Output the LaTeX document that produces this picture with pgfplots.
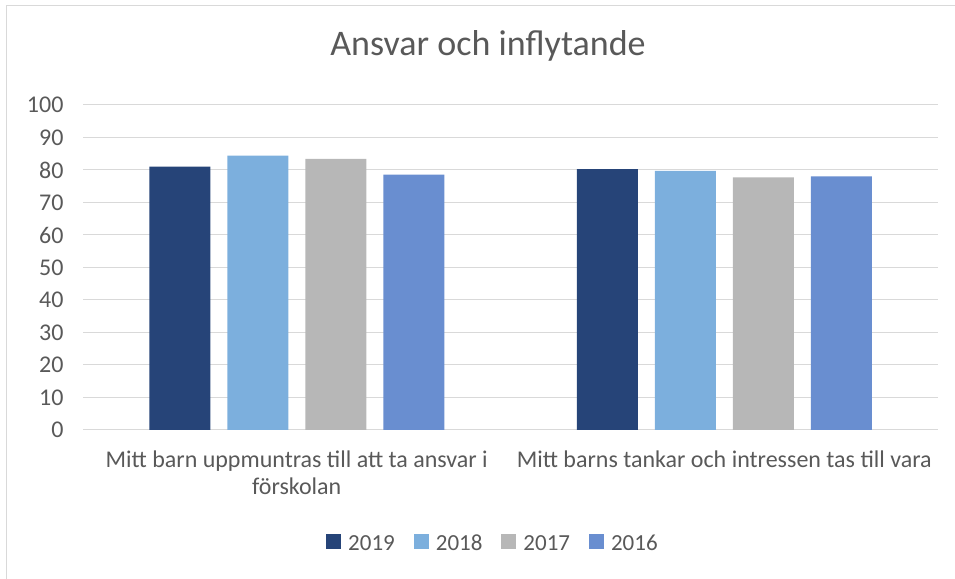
\documentclass[border=0pt]{standalone}
\usepackage{fontspec}
\setmainfont{Carlito}
\usepackage{pgfplots}
\pgfplotsset{compat=1.18}

\definecolor{c2019}{HTML}{264478}
\definecolor{c2018}{HTML}{7CAFDD}
\definecolor{c2017}{HTML}{B7B7B7}
\definecolor{c2016}{HTML}{698ED0}
\definecolor{gridc}{HTML}{D9D9D9}
\definecolor{txt}{HTML}{595959}

\begin{document}
\begin{tikzpicture}
\path[use as bounding box] (0,0) rectangle (955bp,579bp);
% chart frame (cropped at right and bottom)
\draw[gridc, line width=1.5bp] (6.5bp,0) -- (6.5bp,573.5bp) -- (955bp,573.5bp);
\node[anchor=base, text=txt, font=\fontsize{36bp}{42bp}\selectfont] at (488bp,523bp) {Ansvar och inflytande};
\begin{axis}[
  at={(83bp,149bp)}, anchor=south west,
  scale only axis,
  width=855bp, height=325bp,
  xmin=-0.5, xmax=1.5,
  ymin=0, ymax=100,
  ytick={0,10,...,100},
  xtick={0,1},
  xticklabels={{Mitt barn uppmuntras till att ta ansvar i\\förskolan},
               {Mitt barns tankar och intressen tas till vara}},
  xticklabel style={align=center, text=txt, font=\fontsize{24bp}{27bp}\selectfont, yshift=-17bp},
  yticklabel style={text=txt, font=\fontsize{24bp}{28bp}\selectfont, xshift=-16bp},
  /pgf/number format/assume math mode=true,
  major tick length=0pt,
  axis line style={draw=none},
  ymajorgrids,
  major grid style={gridc, line width=1bp},
  ybar, bar width=61bp,
  legend columns=4,
  legend style={at={(0.4795,-0.349)}, anchor=center, draw=none,
    font=\fontsize{23bp}{26bp}\selectfont, text=txt,
    /tikz/every odd column/.append style={column sep=5bp},
    /tikz/every even column/.append style={column sep=17bp}},
  legend image code/.code={\fill[#1] (0bp,-6bp) rectangle (15bp,9bp);},
]
\addplot[fill=c2019, draw=none, bar shift=-117bp] coordinates {(0,81.0) (1,80.3)};
\addlegendentry{2019}
\addplot[fill=c2018, draw=none, bar shift=-39bp] coordinates {(0,84.4) (1,79.7)};
\addlegendentry{2018}
\addplot[fill=c2017, draw=none, bar shift=39bp] coordinates {(0,83.4) (1,77.7)};
\addlegendentry{2017}
\addplot[fill=c2016, draw=none, bar shift=117bp] coordinates {(0,78.6) (1,78.0)};
\addlegendentry{2016}
\end{axis}
\end{tikzpicture}
\end{document}
